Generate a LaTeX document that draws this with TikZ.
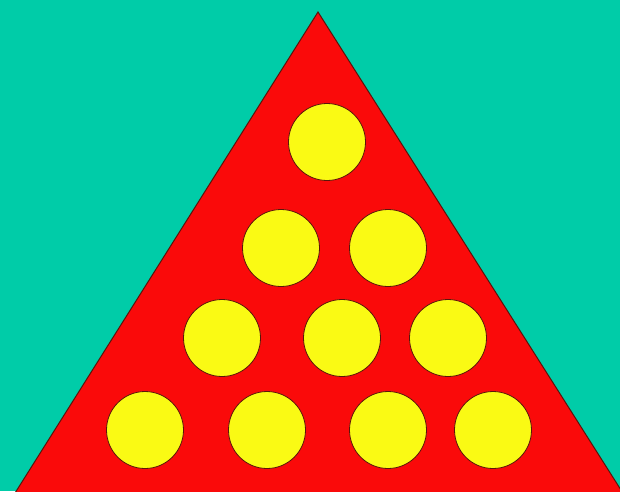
\documentclass[tikz,border=0pt]{standalone}
\definecolor{bgteal}{RGB}{0,204,168}
\definecolor{trired}{RGB}{250,10,10}
\definecolor{ballyel}{RGB}{250,250,20}
\definecolor{edgedark}{RGB}{90,20,10}
\begin{document}
\begin{tikzpicture}[x=1pt,y=-1pt,
  ball/.style={circle,draw=edgedark,line width=0.8pt,fill=ballyel,minimum size=77pt,inner sep=0pt}]
\fill[bgteal] (0,0) rectangle (620,491);
\useasboundingbox (0,0) rectangle (620,491);
\begin{scope}
\clip (0,0) rectangle (620,491);
\draw[edgedark,line width=1pt,fill=trired] (318,12) -- (640,520) -- (-2,520) -- cycle;
\end{scope}
\node[ball] (b1) at (327,142) {};
\node[ball] (b2) at (281,248) {};
\node[ball] (b3) at (388,248) {};
\node[ball] (b4) at (222,338) {};
\node[ball] (b5) at (342,338) {};
\node[ball] (b6) at (448,338) {};
\node[ball] (b7) at (145,430) {};
\node[ball] (b8) at (267,430) {};
\node[ball] (b9) at (388,430) {};
\node[ball] (b10) at (493,430) {};
\end{tikzpicture}
\end{document}
